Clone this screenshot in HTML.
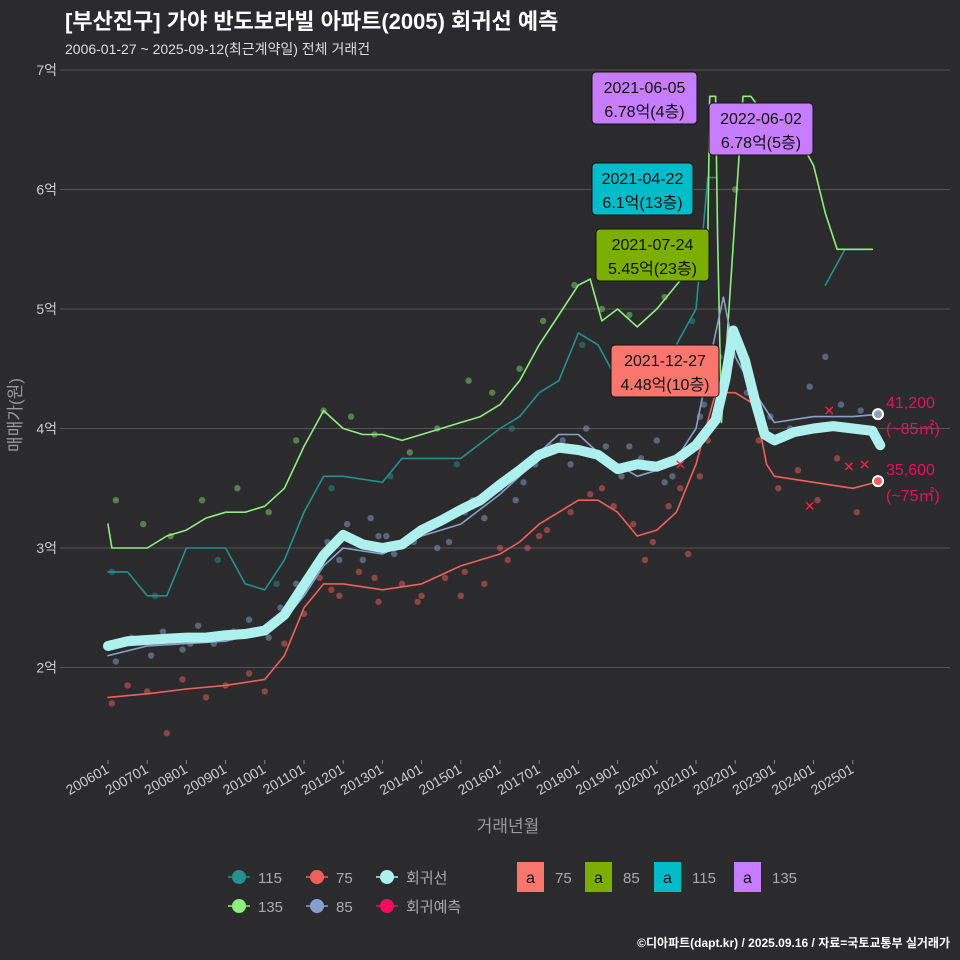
<!DOCTYPE html>
<html><head><meta charset="utf-8">
<style>
html,body{margin:0;padding:0;background:#2b2b2d;}
body{width:960px;height:960px;overflow:hidden;font-family:"Liberation Sans","Noto Sans CJK KR",sans-serif;}
svg{display:block;}
svg text{font-family:"Liberation Sans","Noto Sans CJK KR",sans-serif;}
</style></head>
<body>
<svg id="chart" width="960" height="960" xmlns="http://www.w3.org/2000/svg">
<rect x="0" y="0" width="960" height="960" fill="#2b2b2d"/>
<text x="65" y="29" fill="#ffffff" font-size="22" font-weight="bold">[부산진구] 가야 반도보라빌 아파트(2005) 회귀선 예측</text>
<text x="65" y="54" fill="#dddddd" font-size="14">2006-01-27 ~ 2025-09-12(최근계약일) 전체 거래건</text>
<g id="grid"></g>
<g id="marks"></g>
<g id="axes"></g>
<text x="508" y="832" fill="#999" font-size="17" text-anchor="middle">거래년월</text>
<text x="21" y="415" fill="#999" font-size="17" text-anchor="middle" transform="rotate(-90 21 415)">매매가(원)</text>
<g id="legend"></g>
<text x="950" y="947" fill="#ffffff" font-size="12" font-weight="bold" text-anchor="end">©디아파트(dapt.kr) / 2025.09.16 / 자료=국토교통부 실거래가</text>
</svg>
<script>
const yTicks=[2,3,4,5,6,7];
const xTickYears=[2006,2007,2008,2009,2010,2011,2012,2013,2014,2015,2016,2017,2018,2019,2020,2021,2022,2023,2024,2025];
const regT=[2006,2006.5,2007,2007.5,2008,2008.5,2009,2009.5,2010,2010.5,2011,2011.5,2012,2012.5,2013,2013.5,2014,2014.5,2015,2015.5,2016,2016.5,2017,2017.5,2018,2018.5,2019,2019.5,2020,2020.5,2021,2021.5,2021.75,2021.95,2022.25,2022.5,2022.75,2023,2023.5,2024,2024.5,2025,2025.5,2025.7];
const regV=[2.18,2.22,2.23,2.24,2.25,2.25,2.27,2.28,2.31,2.44,2.69,2.94,3.11,3.03,3.0,3.03,3.15,3.23,3.32,3.40,3.53,3.65,3.78,3.84,3.82,3.78,3.66,3.70,3.68,3.74,3.86,4.07,4.41,4.82,4.57,4.24,3.95,3.90,3.97,4.00,4.02,4.00,3.98,3.86];
const l135T=[2006,2006.1,2006.5,2007,2007.5,2008,2008.5,2009,2009.5,2010,2010.5,2011,2011.5,2012,2012.5,2013,2013.5,2014,2014.5,2015,2015.5,2016,2016.5,2017,2017.5,2018,2018.3,2018.6,2019,2019.5,2020,2020.5,2021,2021.3,2021.35,2021.5,2021.55,2021.65,2022.2,2022.4,2022.8,2023.5,2024,2024.3,2024.6,2025,2025.5];
const l135V=[3.2,3.0,3.0,3.0,3.1,3.15,3.25,3.3,3.3,3.35,3.5,3.85,4.15,4.0,3.95,3.95,3.9,3.95,4.0,4.05,4.1,4.2,4.4,4.7,4.95,5.2,5.25,4.9,5.0,4.85,5.0,5.2,5.4,5.6,6.78,6.78,5.6,4.05,6.78,6.78,6.6,6.5,6.2,5.8,5.5,5.5,5.5];
const l115T=[2006,2006.5,2007,2007.5,2008,2009,2009.5,2010,2010.5,2011,2011.5,2012,2013,2013.5,2014,2015,2016,2016.5,2017,2017.5,2018,2018.5,2019,2019.5,2020,2020.5,2021,2021.3,2021.5];
const l115V=[2.8,2.8,2.6,2.6,3.0,3.0,2.7,2.65,2.9,3.3,3.6,3.6,3.55,3.75,3.75,3.75,4.0,4.1,4.3,4.4,4.8,4.7,4.4,4.5,4.5,4.7,5.0,6.1,6.1];
const l115bT=[2024.3,2024.8,2025.3];
const l115bV=[5.2,5.5,5.5];
const l85T=[2006,2007,2008,2009,2010,2010.5,2011,2011.5,2012,2013,2014,2015,2016,2016.5,2017,2017.5,2018,2018.5,2019,2019.5,2020,2020.5,2021,2021.5,2021.7,2022,2022.5,2023,2024,2025,2025.7];
const l85V=[2.1,2.18,2.2,2.22,2.3,2.4,2.6,2.85,3.0,2.95,3.1,3.2,3.45,3.6,3.8,3.95,3.95,3.8,3.7,3.6,3.65,3.75,4.0,4.8,5.1,4.6,4.3,4.05,4.1,4.1,4.12];
const l75T=[2006,2007,2008,2009,2010,2010.5,2011,2011.5,2012,2013,2014,2015,2016,2016.5,2017,2017.5,2018,2018.5,2019,2019.5,2020,2020.5,2021,2021.5,2022,2022.5,2022.8,2023,2024,2025,2025.7];
const l75V=[1.75,1.78,1.82,1.85,1.9,2.1,2.5,2.7,2.7,2.65,2.7,2.85,2.95,3.05,3.2,3.3,3.4,3.4,3.3,3.1,3.15,3.3,3.7,4.3,4.3,4.2,3.7,3.6,3.55,3.5,3.56];
const s85T=[2006.2,2006.6,2007.1,2007.4,2007.9,2008.3,2008.7,2009.2,2009.6,2010.1,2010.4,2010.8,2011.2,2011.6,2012.1,2012.5,2012.9,2013.3,2013.8,2014.2,2014.7,2015.1,2015.6,2016.0,2016.4,2016.9,2017.3,2017.8,2018.2,2018.7,2019.1,2019.6,2020.0,2020.4,2020.8,2021.2,2021.6,2022.3,2022.9,2023.4,2023.9,2024.3,2024.7,2025.2,2008.1,2009.9,2011.9,2012.7,2013.1,2014.4,2015.3,2016.6,2017.6,2019.3,2020.2,2021.1];
const s85V=[2.05,2.25,2.1,2.3,2.15,2.35,2.2,2.3,2.4,2.25,2.5,2.7,2.8,3.05,3.2,2.9,3.1,2.95,3.05,3.2,3.05,3.3,3.25,3.5,3.4,3.7,3.85,3.7,4.0,3.85,3.6,3.75,3.9,3.6,3.8,4.2,4.6,4.3,4.1,4.0,4.35,4.6,4.2,4.15,2.2,2.3,2.9,3.25,3.1,3.0,3.4,3.55,3.9,3.85,3.55,4.1];
const s75T=[2006.1,2006.5,2007.0,2007.5,2007.9,2008.5,2009.0,2009.6,2010.0,2010.5,2011.0,2011.4,2011.9,2012.4,2012.9,2013.5,2014.0,2014.6,2015.1,2015.6,2016.2,2016.7,2017.2,2017.8,2018.3,2018.9,2019.4,2019.9,2020.3,2020.8,2021.3,2021.8,2022.6,2023.1,2023.6,2024.1,2024.6,2025.1,2011.7,2012.8,2013.9,2015.0,2016.0,2017.0,2018.6,2019.7,2020.6,2021.1];
const s75V=[1.7,1.85,1.8,1.45,1.9,1.75,1.85,1.95,1.8,2.2,2.45,2.75,2.6,2.8,2.55,2.7,2.6,2.75,2.8,2.7,2.9,3.0,3.15,3.3,3.45,3.35,3.2,3.05,3.35,2.95,3.9,4.45,3.9,3.5,3.65,3.4,3.75,3.3,2.65,2.75,2.55,2.6,3.0,3.1,3.5,2.9,3.5,3.6];
const s135T=[2006.2,2006.9,2007.6,2008.4,2009.3,2010.1,2010.8,2011.5,2012.2,2012.8,2013.7,2014.4,2015.2,2015.8,2016.5,2017.1,2017.9,2018.6,2019.3,2020.2,2020.9,2022.0];
const s135V=[3.4,3.2,3.1,3.4,3.5,3.3,3.9,4.15,4.1,3.95,3.8,4.0,4.4,4.3,4.5,4.9,5.2,5.0,4.95,5.1,5.3,6.0];
const s115T=[2006.1,2007.2,2008.8,2010.3,2011.7,2013.2,2014.9,2016.3,2018.1,2019.7,2020.9];
const s115V=[2.8,2.6,2.9,2.7,3.5,3.6,3.7,4.0,4.7,4.5,4.9];
const predT=[2020.6,2023.9,2024.4,2024.9,2025.3];
const predV=[3.7,3.35,4.15,3.68,3.7];

const X0=108,PX=39.2,Y0=70,PY=119.5;
function xs(t){return X0+(t-2006)*PX;}
function ys(v){return Y0+(7-v)*PY;}
const NS='http://www.w3.org/2000/svg';
function mk(tag,attrs,parent){const e=document.createElementNS(NS,tag);for(const k in attrs)e.setAttribute(k,attrs[k]);parent.appendChild(e);return e;}
const grid=document.getElementById('grid'),marks=document.getElementById('marks'),axes=document.getElementById('axes'),legend=document.getElementById('legend');

yTicks.forEach(v=>{
  const l=mk('line',{x1:60,x2:950,y1:ys(v),y2:ys(v),stroke:'#555',"stroke-width":1},grid);
  
  
  const t=mk('text',{x:57,y:ys(v)+5,fill:'#cccccc','font-size':14,'text-anchor':'end'},axes);
  t.textContent=v+'억';
  
  
});
xTickYears.forEach(yr=>{
  const x=xs(yr);
  const tk=mk('line',{x1:x,x2:x,y1:760,y2:764,stroke:'#888'},axes);
  
  
  const t=mk('text',{x:x+2,y:772,fill:'#cccccc','font-size':14,'text-anchor':'end',transform:'rotate(-30 '+(x+2)+' 772)'},axes);
  t.textContent=yr+'01';
  
  
});

function dots(T,V,color,name){
  T.forEach((t,i)=>{
    const c=mk('circle',{cx:xs(t),cy:ys(V[i]),r:3.2,fill:color,opacity:0.5},marks);
    
    
  });
}
function line(T,V,color,w,name,op){
  const d=T.map((t,i)=>(i?'L':'M')+xs(t).toFixed(1)+','+ys(V[i]).toFixed(1)).join(' ');
  const p=mk('path',{d:d,fill:'none',stroke:color,'stroke-width':w,'stroke-linejoin':'round','stroke-linecap':'round',opacity:op||1},marks);
  
  
}
dots(s135T,s135V,'#7fd66a','scatter-135');
dots(s115T,s115V,'#2a9090','scatter-115');
dots(s85T,s85V,'#8aa0cc','scatter-85');
dots(s75T,s75V,'#f0605a','scatter-75');
line(l115T,l115V,'#25908f',1.6,'line-115');
line(l115bT,l115bV,'#25908f',1.6,'line-115-recent');
line(l135T,l135V,'#90ee80',1.6,'line-135');
line(l85T,l85V,'#8aa0cc',1.6,'line-85');
line(l75T,l75V,'#f0605a',1.6,'line-75');
line(regT,regV,'#aef0ee',10,'regression-line');
predT.forEach((t,i)=>{
  const g=mk('text',{x:xs(t),y:ys(predV[i])+5,fill:'#ff2040','font-size':14,'text-anchor':'middle'},marks);
  g.textContent='✕';
  
  
});
const e1=mk('circle',{cx:878,cy:ys(4.12),r:5,fill:'#8aa0cc',stroke:'#fff','stroke-width':2},marks);


const e2=mk('circle',{cx:878,cy:ys(3.56),r:5,fill:'#f0605a',stroke:'#fff','stroke-width':2},marks);



const endLabels=[[ys(4.12)-6,'41,200'],[ys(4.12)+20,'(~85㎡)'],[ys(3.56)-6,'35,600'],[ys(3.56)+20,'(~75㎡)']];
endLabels.forEach(a=>{
  const t=mk('text',{x:886,y:a[0],fill:'#e8105a','font-size':16},marks);
  t.textContent=a[1];
  
  
});

const ann=[[592,72,105,'#c77dff','2021-06-05','6.78억(4층)'],[709,103,104,'#c77dff','2022-06-02','6.78억(5층)'],[592,163,101,'#00bcc8','2021-04-22','6.1억(13층)'],[596,229,113,'#7cae00','2021-07-24','5.45억(23층)'],[611,345,108,'#f8766d','2021-12-27','4.48억(10층)']];
ann.forEach(a=>{
  const g=mk('g',{},marks);
  
  
  mk('rect',{x:a[0],y:a[1],width:a[2],height:52,rx:4,fill:a[3],stroke:'#111','stroke-width':1},g);
  const t1=mk('text',{x:a[0]+a[2]/2,y:a[1]+21,fill:'#111','font-size':16,'text-anchor':'middle'},g);t1.textContent=a[4];
  const t2=mk('text',{x:a[0]+a[2]/2,y:a[1]+45,fill:'#111','font-size':16,'text-anchor':'middle'},g);t2.textContent=a[5];
});

const legItems=[[233,877,'#25908f','115'],[311,877,'#f0605a','75'],[381,877,'#aef0ee','회귀선'],[233,906,'#90ee80','135'],[311,906,'#8aa0cc','85'],[381,906,'#ff0a5a','회귀예측']];
legItems.forEach(a=>{
  const g=mk('g',{},legend);
  
  
  mk('line',{x1:a[0]-5,x2:a[0]+17,y1:a[1],y2:a[1],stroke:a[2],'stroke-width':1.5},g);
  mk('circle',{cx:a[0]+6,cy:a[1],r:7,fill:a[2]},g);
  const t=mk('text',{x:a[0]+25,y:a[1]+6,fill:'#aaa','font-size':15},g);t.textContent=a[3];
});
[[517,'#f8766d','75'],[585,'#7cae00','85'],[654,'#00bcc8','115'],[734,'#c77dff','135']].forEach(a=>{
  const g=mk('g',{},legend);
  
  
  mk('rect',{x:a[0],y:862,width:27,height:30,fill:a[1]},g);
  const t=mk('text',{x:a[0]+13.5,y:883,fill:'#111','font-size':16,'text-anchor':'middle'},g);t.textContent='a';
  const t2=mk('text',{x:a[0]+38,y:883,fill:'#aaa','font-size':15},g);t2.textContent=a[2];
});
</script>
</body></html>
